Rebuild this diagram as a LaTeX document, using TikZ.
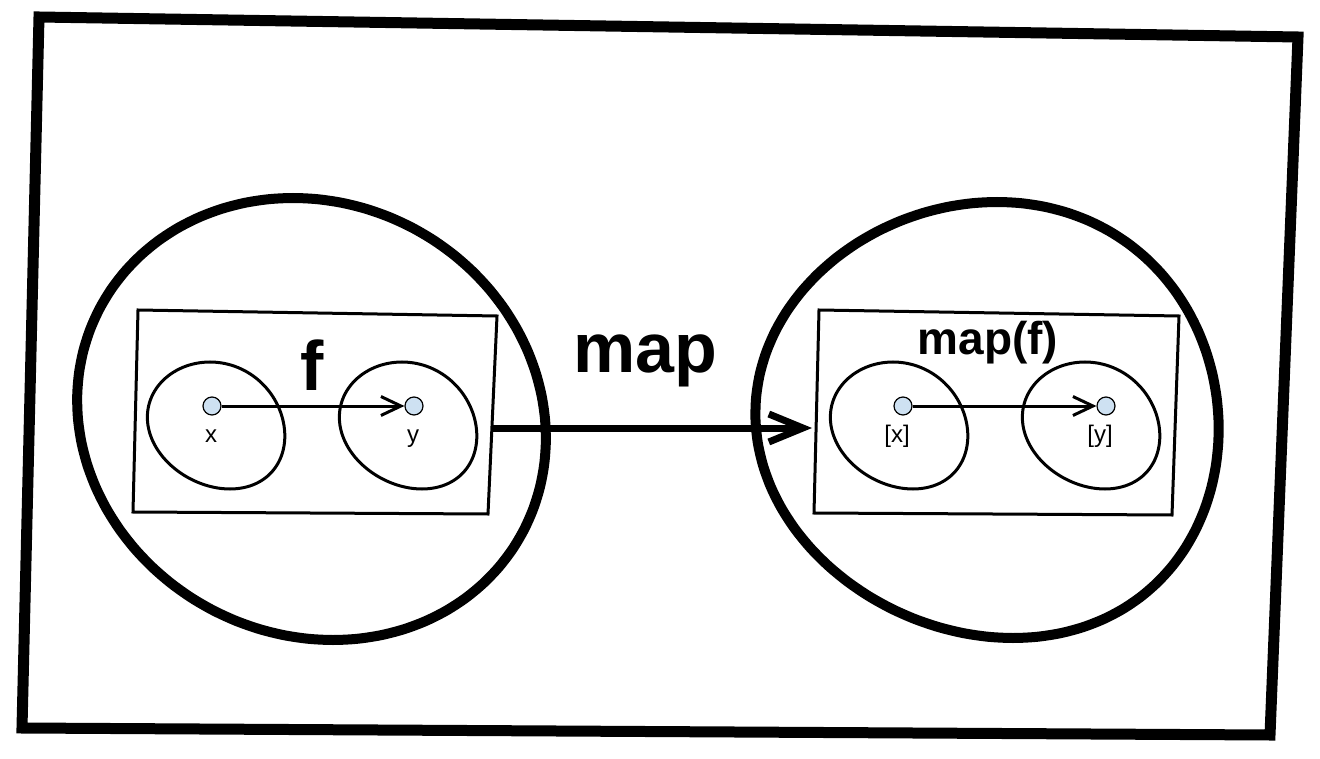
\documentclass[tikz,border=0pt]{standalone}
\usepackage{fontspec}
\setmainfont{Liberation Sans}
\usetikzlibrary{arrows.meta}
\definecolor{dotblue}{RGB}{206,225,242}

\tikzstyle{frame}=[draw,line width=11pt,line join=miter]
\tikzstyle{bigset}=[draw,line width=10pt]
\tikzstyle{panel}=[draw,line width=3pt,line join=miter]
\tikzstyle{smallset}=[draw,line width=3pt]
\tikzstyle{elem}=[circle,draw,fill=dotblue,line width=1.2pt,minimum size=18pt,inner sep=0pt]
\tikzstyle{lbl}=[anchor=base,font=\fontsize{24}{28}\selectfont]
\tikzstyle{title}=[anchor=base,font=\fontsize{70}{80}\selectfont\bfseries]
\tikzstyle{subtitle}=[anchor=base,font=\fontsize{46}{52}\selectfont\bfseries]
\tikzstyle{mapsto}=[draw,line width=3pt,-{Straight Barb[length=20pt,width=19pt]}]
\tikzstyle{functor}=[draw,line width=7pt,-{Straight Barb[length=34pt,width=28pt]}]

\begin{document}
\begin{tikzpicture}[x=1pt,y=-1pt]
    \useasboundingbox (0,0) rectangle (1320,759);
    % outer frame
    \draw[frame] (39,17) -- (1298,37) -- (1270,735) -- (22,728) -- cycle;
    % the two big sets
    \draw[bigset] plot[domain=0:354,samples=60,smooth cycle,variable=\t]
        ({311.5+233.5*cos(\t)+20*sin(\t)+1.5*sin(\t)*sin(\t)},{419+221*sin(\t)});
    \draw[bigset] plot[domain=0:354,samples=60,smooth cycle,variable=\t]
        ({987+231.5*cos(\t)+8*sin(\t)+18*sin(\t)*sin(\t)},{420+218*sin(\t)});
    % panels inside the sets
    \draw[panel] (138,310) -- (497,316) -- (488,514) -- (133,512) -- cycle;
    \draw[panel] (819,310) -- (1179,316) -- (1172,515) -- (814,513) -- cycle;
    % small sets in the panels
    \foreach \s in {0,192,683,875}
        \draw[smallset] plot[domain=0:354,samples=60,smooth cycle,variable=\t]
            ({216+\s+68*cos(\t)+10*sin(\t)+4*sin(\t)*sin(\t)},{425.5+63.5*sin(\t)});
    % elements
    \node[elem] (x) at (212,406) {};
    \node[elem] (y) at (414,406) {};
    \node[elem] (mx) at (903,406) {};
    \node[elem] (my) at (1106,406) {};
    % labels
    \node[lbl] (xl) at (211,442) {x};
    \node[lbl] (yl) at (413,442) {y};
    \node[lbl] (mxl) at (897,442) {[x]};
    \node[lbl] (myl) at (1100,442) {[y]};
    \node[title] (f) at (312,390) {f};
    \node[title] (map) at (645,372) {map};
    \node[subtitle] (mapf) at (988,355) {map(f)};
    % connectors
    \coordinate (out) at (492,428);
    \coordinate (in) at (812,428);
    \foreach \source/\dest in {x/y, mx/my}
        \path[mapsto] (\source) -- (\dest);
    \path[functor] (out) -- (in);
\end{tikzpicture}
\end{document}
